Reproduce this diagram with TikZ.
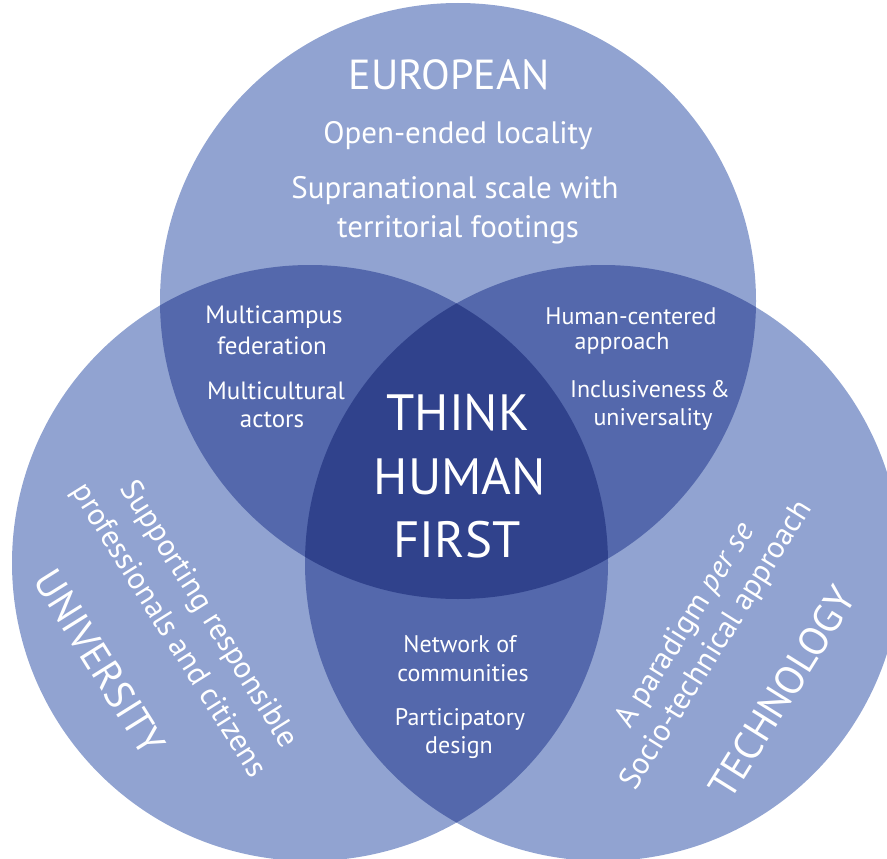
\documentclass[tikz,border=0pt]{standalone}
\usepackage{fontspec}
\setmainfont{PT Sans}
\definecolor{lightc}{HTML}{91A3D1}
\definecolor{midc}{HTML}{5468AC}
\definecolor{darkc}{HTML}{30428C}
\begin{document}
\begin{tikzpicture}[x=1pt,y=-1pt,
  txt/.style={text=white, inner sep=0pt, font=\fontsize{#1}{#1}\selectfont}]
\useasboundingbox (0,0) rectangle (887,859);
\clip (0,0) rectangle (887,859);
\def\R{298pt}
\coordinate (cT) at (458,301);
\coordinate (cL) at (310,563);
\coordinate (cR) at (603,563);
% single circles
\fill[lightc] (cT) circle[radius=\R];
\fill[lightc] (cL) circle[radius=\R];
\fill[lightc] (cR) circle[radius=\R];
% pairwise overlaps
\begin{scope}
  \clip (cT) circle[radius=\R];
  \fill[midc] (cL) circle[radius=\R];
  \fill[midc] (cR) circle[radius=\R];
\end{scope}
\begin{scope}
  \clip (cL) circle[radius=\R];
  \fill[midc] (cR) circle[radius=\R];
\end{scope}
% triple overlap
\begin{scope}
  \clip (cT) circle[radius=\R];
  \clip (cL) circle[radius=\R];
  \fill[darkc] (cR) circle[radius=\R];
\end{scope}
% top circle
\node[txt=42] (eu) at (449,75) {EUROPEAN};
\node[txt=31] (eu1) at (458,136) {Open-ended locality};
\node[txt=31] (eu2) at (455,191) {Supranational scale with};
\node[txt=31] (eu3) at (458,230) {territorial footings};
% top-left overlap
\node[txt=25] (tl1) at (274,317) {Multicampus};
\node[txt=25] (tl2) at (272,346) {federation};
\node[txt=25] (tl3) at (276,391) {Multicultural};
\node[txt=25] (tl4) at (272,420) {actors};
% top-right overlap
\node[txt=24] (tr1) at (631,316) {Human-centered};
\node[txt=24] (tr2) at (622,343) {approach};
\node[txt=24] (tr3) at (650,389) {Inclusiveness\,\&};
\node[txt=24] (tr4) at (653,419) {universality};
% centre
\node[txt=51] (c1) at (458,413) {THINK};
\node[txt=51] (c2) at (460,477) {HUMAN};
\node[txt=51] (c3) at (457,540) {FIRST};
% bottom overlap
\node[txt=24] (b1) at (460,644) {Network of};
\node[txt=24] (b2) at (463,673) {communities};
\node[txt=24] (b3) at (460,719) {Participatory};
\node[txt=24] (b4) at (459,748) {design};
% left circle
\node[txt=31, rotate=-58] (u1) at (208,615) {Supporting responsible};
\node[txt=31, rotate=-58] (u2) at (168,631) {professionals and citizens};
\node[txt=40, rotate=-58] (u3) at (100,662) {UNIVERSITY};
% right circle
\node[txt=31, rotate=58] (t1) at (686,626) {A paradigm \textit{per se}};
\node[txt=31, rotate=58] (t2) at (717,646) {Socio-technical approach};
\node[txt=40, rotate=58] (t3) at (782,692) {TECHNOLOGY};
\end{tikzpicture}
\end{document}
